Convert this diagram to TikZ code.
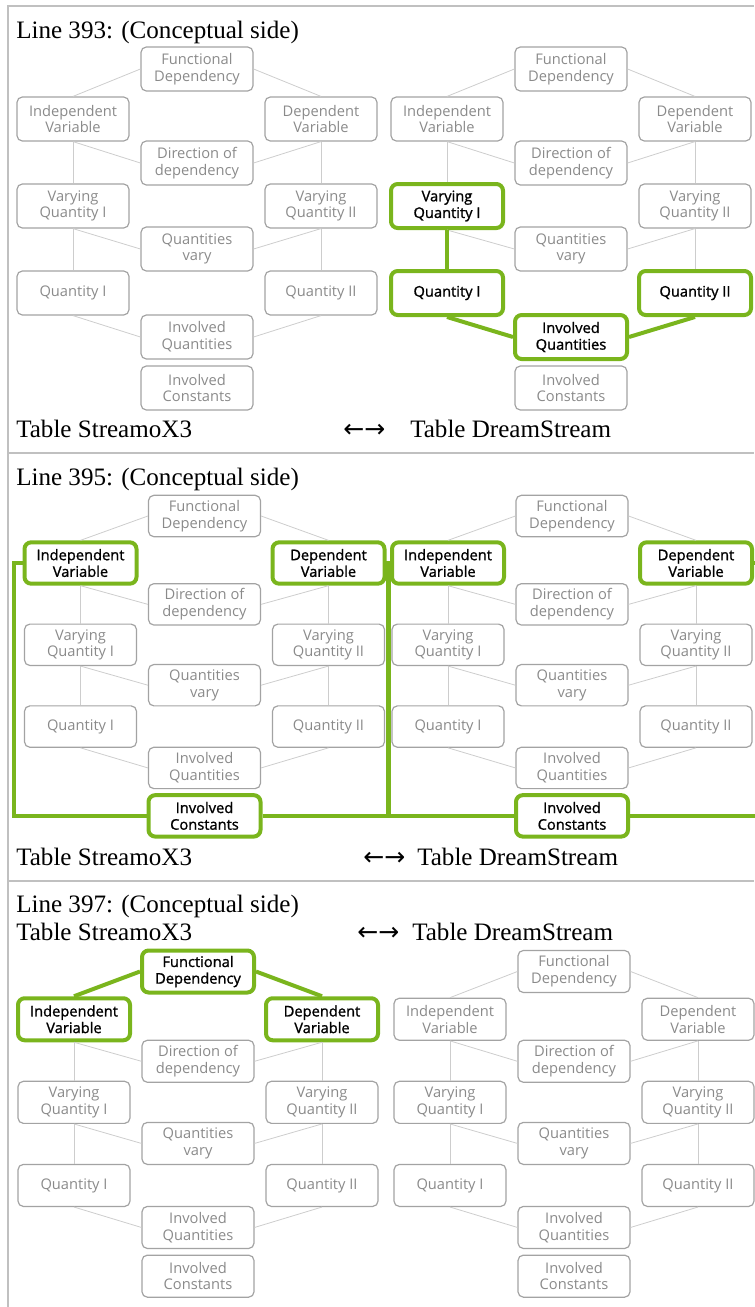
\documentclass[tikz,border=0pt]{standalone}
\usepackage{fontspec}
\setmainfont{Liberation Serif}
\newfontfamily\boxfont{Open Sans}
\newfontfamily\boxfontb[FakeBold=1.2]{Open Sans}
\newfontfamily\arrowfont{DejaVu Sans}
\usetikzlibrary{calc}

\definecolor{boxgray}{HTML}{A3A3A3}
\definecolor{txtgray}{HTML}{8A8A8A}
\definecolor{linegray}{HTML}{CDCDCD}
\definecolor{tablegray}{HTML}{C0C0C0}
\definecolor{hlgreen}{HTML}{7AB51D}

\tikzset{
  cbox/.style={draw=boxgray, line width=0.9pt, rounded corners=4pt, text=txtgray,
    font=\boxfont\fontsize{11}{12.5}\selectfont, align=center, inner sep=0pt,
    minimum width=84pt},
  hl/.style={draw=hlgreen, line width=3pt, rounded corners=5pt, text=black,
    font=\boxfontb\fontsize{11}{12.5}\selectfont},
  conn/.style={draw=linegray, line width=0.6pt},
  hlconn/.style={draw=hlgreen, line width=3pt},
  caption/.style={anchor=base west, inner sep=0pt, font=\fontsize{18.8}{22}\selectfont},
  tableline/.style={draw=tablegray, line width=1.5pt},
}

% #1 prefix, #2,#3 centre of the top box, #4 vertical scale
\newcommand\conceptdiag[4]{%
  \begin{scope}[shift={(#2,#3)}, yscale=#4]
    \tikzstyle{every node}=[cbox, minimum height=#4*33pt]
    \node[#1FD/.try] (#1FD) at (0,0) {Functional\\Dependency};
    \node[#1IV/.try] (#1IV) at (-124,50) {Independent\\Variable};
    \node[#1DV/.try] (#1DV) at (124,50) {Dependent\\Variable};
    \node[#1Dir/.try] (#1Dir) at (0,94) {Direction of\\dependency};
    \node[#1VQI/.try] (#1VQI) at (-124,137) {Varying\\Quantity I};
    \node[#1VQII/.try] (#1VQII) at (124,137) {Varying\\Quantity II};
    \node[#1QV/.try] (#1QV) at (0,180) {Quantities\\vary};
    \node[#1QI/.try] (#1QI) at (-124,224) {Quantity I};
    \node[#1QII/.try] (#1QII) at (124,224) {Quantity II};
    \node[#1IQ/.try] (#1IQ) at (0,268) {Involved\\Quantities};
    \node[#1IC/.try] (#1IC) at (0,319) {Involved\\Constants};
    \draw[conn,#1FDIV/.try] (#1FD.west)--(#1IV.north);
    \draw[conn,#1FDDV/.try] (#1FD.east)--(#1DV.north);
    \draw[conn] (#1IV.south)--(#1Dir.west);
    \draw[conn] (#1DV.south)--(#1Dir.east);
    \draw[conn] (#1IV.south)--(#1VQI.north);
    \draw[conn] (#1DV.south)--(#1VQII.north);
    \draw[conn] (#1VQI.south)--(#1QV.west);
    \draw[conn] (#1VQII.south)--(#1QV.east);
    \draw[conn,#1VQIQI/.try] (#1VQI.south)--(#1QI.north);
    \draw[conn] (#1VQII.south)--(#1QII.north);
    \draw[conn,#1QIIQ/.try] (#1QI.south)--(#1IQ.west);
    \draw[conn,#1QIIIQ/.try] (#1QII.south)--(#1IQ.east);
  \end{scope}}

\begin{document}
\begin{tikzpicture}[x=0.75pt, y=-0.75pt,
    bVQI/.style=hl, bQI/.style=hl, bQII/.style=hl, bIQ/.style=hl,
    bVQIQI/.style=hlconn, bQIIQ/.style=hlconn, bQIIIQ/.style=hlconn,
    cIV/.style=hl, cDV/.style=hl, cIC/.style=hl,
    dIV/.style=hl, dDV/.style=hl, dIC/.style=hl,
    eFD/.style=hl, eIV/.style=hl, eDV/.style=hl,
    eFDIV/.style=hlconn, eFDDV/.style=hlconn]
  \useasboundingbox (0,0) rectangle (754,1307);

  % table rules
  \draw[tableline] (8,6) -- (754,6);
  \draw[tableline] (8,5.3) -- (8,1307);
  \draw[tableline] (8,453) -- (754,453);
  \draw[tableline] (8,881) -- (754,881);

  % row 1
  \node[caption] (t1) at (16,38) {Line 393: (Conceptual side)};
  \conceptdiag{a}{197}{69}{1}
  \conceptdiag{b}{571}{69}{1}
  \node[caption] (l1) at (16,437) {Table StreamoX3};
  \node[caption] (a1) at (343,437) {\arrowfont ←→};
  \node[caption] (r1) at (410,437) {Table DreamStream};

  % row 2
  \node[caption] (t2) at (16,485) {Line 395: (Conceptual side)};
  \conceptdiag{c}{204.5}{516}{0.94}
  \conceptdiag{d}{572}{516}{0.94}
  \draw[hlconn] (cIV.west) -- ++(-9,0) |- (cIC.west);
  \draw[hlconn] (cIC.east) -| ([xshift=1.5pt]cDV.east) -- (cDV.east);
  \draw[hlconn] (dIV.west) -- ++(-2.5,0) |- (dIC.west);
  \draw[hlconn] (dIC.east) -| ([xshift=6pt]dDV.east) -- (dDV.east);
  \node[caption] (l2) at (16,865) {Table StreamoX3};
  \node[caption] (a2) at (363,865) {\arrowfont ←→};
  \node[caption] (r2) at (417,865) {Table DreamStream};

  % row 3
  \node[caption] (t3) at (16,912) {Line 397: (Conceptual side)};
  \node[caption] (l3) at (16,940) {Table StreamoX3};
  \node[caption] (a3) at (357,940) {\arrowfont ←→};
  \node[caption] (r3) at (412,940) {Table DreamStream};
  \conceptdiag{e}{198}{971.5}{0.955}
  \conceptdiag{f}{574}{971.5}{0.955}
\end{tikzpicture}
\end{document}
